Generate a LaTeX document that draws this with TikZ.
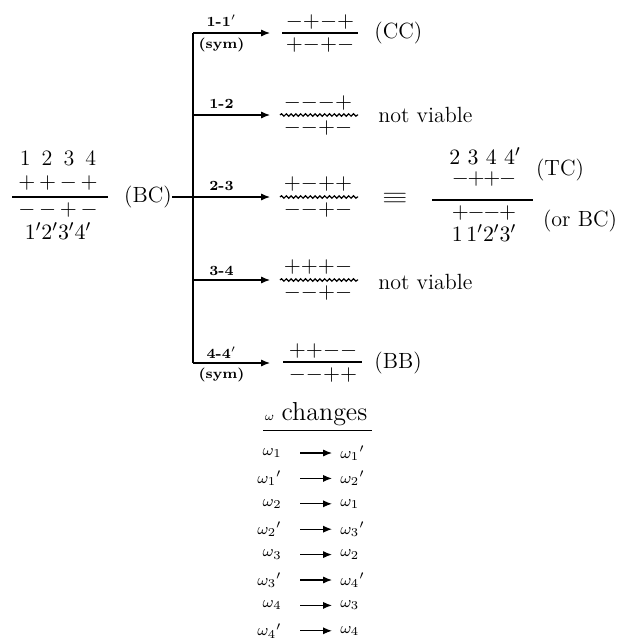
\documentclass[tikz,border=0pt]{standalone}
\usetikzlibrary{arrows.meta,decorations.pathmorphing}

\begin{document}
\begin{tikzpicture}[x=0.5pt, y=-0.5pt,
  font=\fontsize{11}{13}\selectfont,
  every node/.style={inner sep=0pt},
  bar/.style={line width=0.7pt},
  wavy/.style={line width=0.6pt, decorate, decoration={snake, segment length=2.4pt, amplitude=0.6pt}},
  trunk/.style={line width=0.6pt},
  branch/.style={line width=0.6pt, -{Latex[length=4.5pt,width=3.6pt]}},
  lbl/.style={font=\fontsize{7}{8}\selectfont\bfseries},
  tbl/.style={font=\fontsize{8}{9}\selectfont}
]
\useasboundingbox (0,0) rectangle (619,638);

% starting configuration
\node (bcNum) at (58,158) {1\enspace2\enspace3\enspace4};
\node (bcUp) at (58,183) {${+}\,{+}\,{-}\,{+}$};
\draw[bar] (12,197) -- (108,197);
\node (bcDn) at (58,210) {${-}\,{-}\,{+}\,{-}$};
\node (bcDen) at (58,231) {$1'2'3'4'$};
\node (bc) at (148,197) {(BC)};

% trunk and branches
\coordinate (j1) at (193,33);
\coordinate (j2) at (193,115);
\coordinate (j3) at (193,197);
\coordinate (j4) at (193,280);
\coordinate (j5) at (193,363);
\draw[trunk] (bc) -- (j3);
\draw[trunk] (j1) -- (j5);
\foreach \i/\y in {1/33,2/115,3/197,4/280,5/363}
  \coordinate (a\i) at (270,\y);
\draw[branch] (j1) -- node[lbl,above=3pt,pos=0.37]{1-1$'$} node[lbl,below=2pt,pos=0.37]{(sym)} (a1);
\draw[branch] (j2) -- node[lbl,above=3pt,pos=0.37]{1-2} (a2);
\draw[branch] (j3) -- node[lbl,above=3pt,pos=0.37]{2-3} (a3);
\draw[branch] (j4) -- node[lbl,above=2pt,pos=0.37]{3-4} (a4);
\draw[branch] (j5) -- node[lbl,above=2pt,pos=0.37]{4-4$'$} node[lbl,below=2pt,pos=0.37]{(sym)} (a5);

% results of each branch
\node (cUp) at (320,22) {${-}{+}{-}{+}$};
\draw[bar] (282,33) -- (358,33);
\node (cDn) at (320,45) {${+}{-}{+}{-}$};
\node[anchor=west] (cc) at (374,33) {(CC)};

\node (nUp) at (318,103) {${-}{-}{-}{+}$};
\draw[wavy] (280,115) -- (358,115);
\node (nDn) at (318,128) {${-}{-}{+}{-}$};
\node[anchor=west] (nv1) at (378,115) {not viable};

\node (tUp) at (318,184) {${+}{-}{+}{+}$};
\draw[wavy] (280,197) -- (358,197);
\node (tDn) at (318,210) {${-}{-}{+}{-}$};
\node (eq) at (395,198) {\scalebox{1.5}[1]{$\equiv$}};
\node (tcNum) at (485,156) {$2\,\,3\,\,4\,\,4'$};
\node (tcUp) at (484,179) {${-}\mkern-1mu{+}\mkern-1mu{+}\mkern-1mu{-}$};
\draw[bar] (432,200) -- (533,200);
\node (tcDn) at (484,213) {${+}\mkern-1mu{-}\mkern-1mu{-}\mkern-1mu{+}$};
\node (tcDen) at (484,233) {$1\,1'2'3'$};
\node (tc) at (560,170) {(TC)};
\node (orbc) at (580,221) {(or BC)};

\node (vUp) at (318,267) {${+}{+}{+}{-}$};
\draw[wavy] (280,280) -- (358,280);
\node (vDn) at (318,293) {${-}{-}{+}{-}$};
\node[anchor=west] (nv2) at (378,282) {not viable};

\node (bUp) at (323,351) {${+}{+}{-}{-}$};
\draw[bar] (283,362) -- (362,362);
\node (bDn) at (323,375) {${-}{-}{+}{+}$};
\node[anchor=west] (bb) at (374,363) {(BB)};

% table of omega changes
\node (head) at (316,414) {{\fontsize{6}{7}\selectfont$\omega$} {\fontsize{13}{15}\selectfont changes}};
\draw[line width=0.5pt] (263,430) -- (372,430);
\foreach \a/\b [count=\i] in {\omega_1/\omega_1{}', \omega_1{}'/\omega_2{}',
    \omega_2/\omega_1, \omega_2{}'/\omega_3{}', \omega_3/\omega_2,
    \omega_3{}'/\omega_4{}', \omega_4/\omega_3, \omega_4{}'/\omega_4}{
  \pgfmathsetmacro\yy{453+25.4*(\i-1)}
  \node[tbl,anchor=east] (old\i) at (282,\yy) {$\a$};
  \node[tbl,anchor=west] (new\i) at (340,\yy) {$\b$};
  \draw[branch,shorten <=9pt,shorten >=4pt] (old\i.east) -- (new\i.west);
}
\end{tikzpicture}
\end{document}
